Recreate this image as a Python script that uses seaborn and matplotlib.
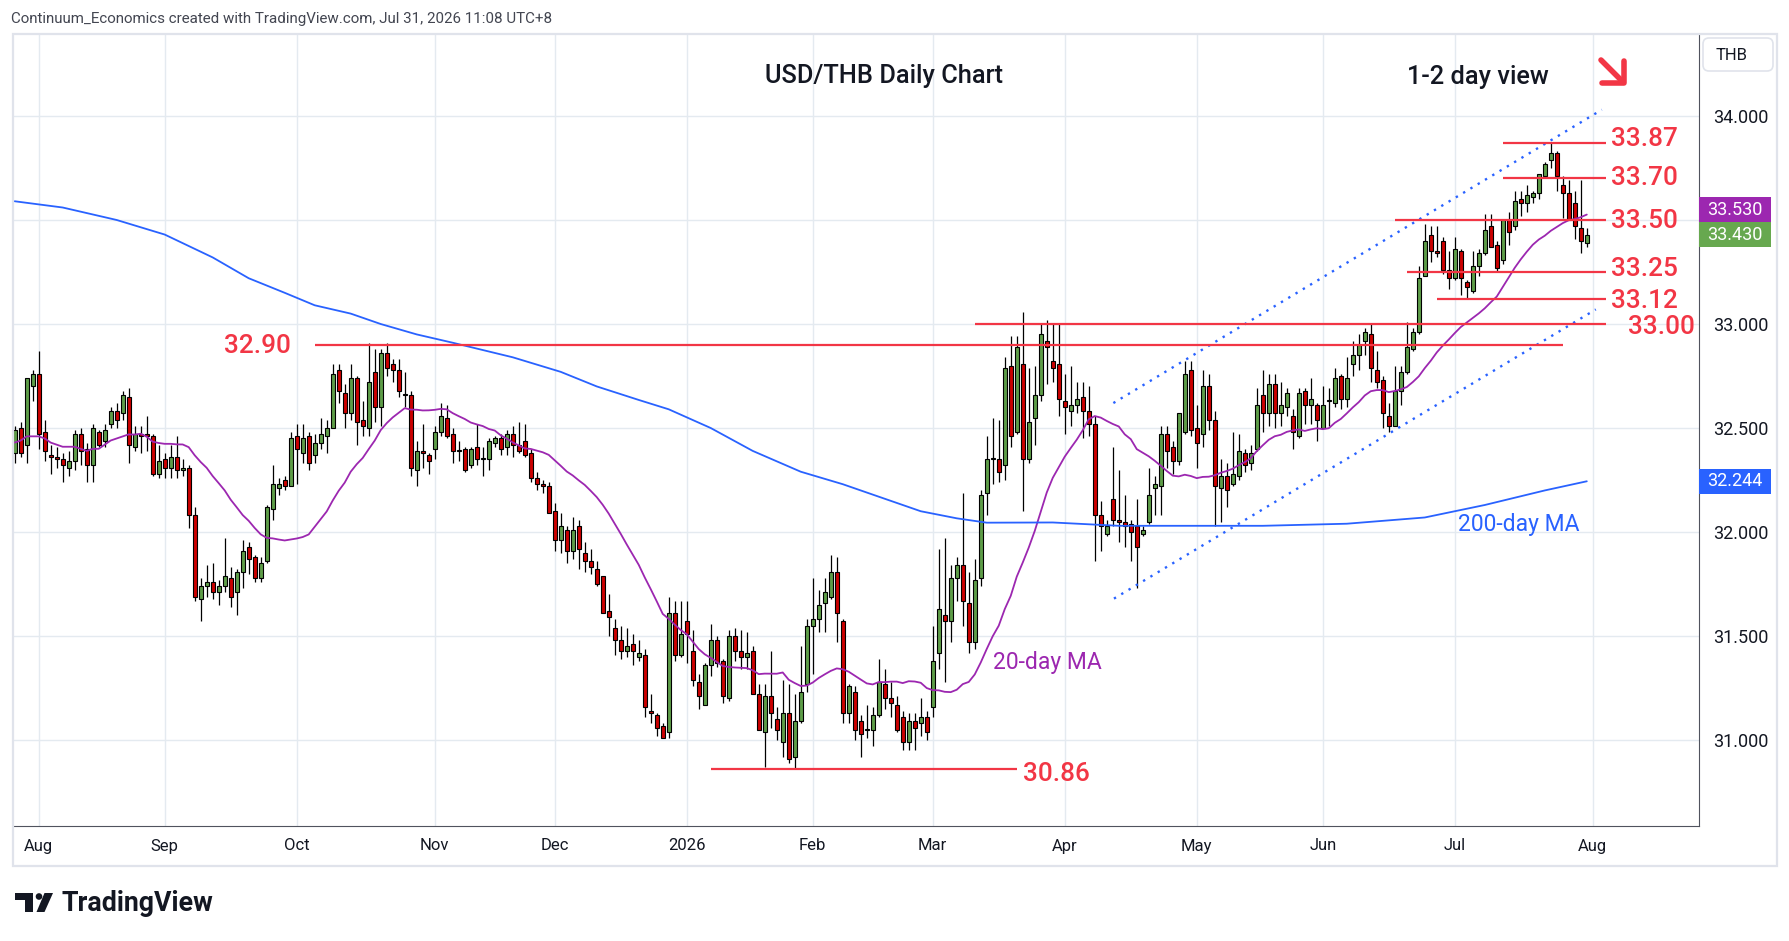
import numpy as np
import pandas as pd
import matplotlib
matplotlib.use("Agg")
import matplotlib.pyplot as plt
import seaborn as sns
from matplotlib.patches import Rectangle, Polygon, Circle, FancyBboxPatch
from matplotlib.transforms import blended_transform_factory
from matplotlib.ticker import FuncFormatter

# ---------------- data ----------------
start_date = "2025-07-28"
end_date = "2026-07-31"
holidays = ["2025-12-25", "2026-01-01"]

open_ = [
    32.38, 32.50, 32.42, 32.70, 32.76, 32.48, 32.37, 32.36, 32.35, 32.31,
    32.34, 32.47, 32.40, 32.32, 32.48, 32.44, 32.52, 32.58, 32.57, 32.65,
    32.41, 32.47, 32.47, 32.46, 32.28, 32.35, 32.31, 32.36, 32.30, 32.31, 32.08,
    31.68, 31.74, 31.76, 31.71, 31.74, 31.78, 31.71, 31.81, 31.93, 31.88, 31.78,
    31.86, 32.11, 32.21, 32.25, 32.22, 32.46, 32.38, 32.46, 32.37, 32.43, 32.46,
    32.50, 32.78, 32.67, 32.57, 32.74, 32.54, 32.50, 32.77, 32.60, 32.86,
    32.81, 32.78, 32.66, 32.66, 32.30, 32.39, 32.37, 32.40, 32.48, 32.55,
    32.47, 32.39, 32.40, 32.32, 32.41, 32.35, 32.35, 32.43, 32.45, 32.41,
    32.47, 32.42, 32.44, 32.38, 32.26, 32.23, 32.22, 32.10, 31.96, 32.01, 31.91,
    32.03, 31.90, 31.86, 31.82, 31.79, 31.62, 31.54, 31.48, 31.43, 31.46, 31.40,
    31.41, 31.14, 31.12, 31.07, 31.04, 31.61, 31.41, 31.57, 31.43, 31.28,
    31.17, 31.36, 31.48, 31.38, 31.20, 31.50, 31.43, 31.40, 31.43, 31.22,
    31.04, 31.21, 31.10, 30.99, 31.13, 30.92, 31.09, 31.27, 31.55, 31.58,
    31.66, 31.69, 31.81, 31.57, 31.13, 31.23, 31.09, 31.05, 31.05, 31.12,
    31.27, 31.20, 31.17, 31.11, 30.99, 31.09, 31.08, 31.11, 31.16, 31.42, 31.60, 31.57, 31.78,
    31.84, 31.66, 31.47, 31.78, 32.19, 32.35, 32.35, 32.32, 32.80, 32.48,
    32.81, 32.35, 32.55, 32.66, 32.92, 32.82, 32.81, 32.63, 32.58, 32.61,
    32.65, 32.58, 32.52, 32.08, 31.99, 32.16, 32.06, 32.05, 32.04, 32.03,
    31.99, 32.05, 32.21, 32.22, 32.47, 32.41, 32.34, 32.48, 32.78, 32.50,
    32.47, 32.70, 32.54, 32.21, 32.27, 32.23, 32.27, 32.38, 32.33, 32.40,
    32.66, 32.57, 32.71, 32.57, 32.60, 32.56, 32.46, 32.68, 32.61, 32.61,
    32.50, 32.63, 32.62, 32.75, 32.64, 32.81, 32.85, 32.92, 32.95, 32.78,
    32.73, 32.56, 32.51, 32.68, 32.77, 32.88, 32.96,
    33.23, 33.43, 33.35, 33.40, 33.26, 33.22, 33.35, 33.20, 33.16, 33.28,
    33.34, 33.47, 33.38, 33.31, 33.50, 33.47, 33.60, 33.58, 33.61,
    33.63, 33.71, 33.79, 33.82, 33.67, 33.63, 33.58, 33.46, 33.39,
]

high = [
    32.51, 32.53, 32.74, 32.78, 32.87, 32.54, 32.42, 32.41, 32.38, 32.39,
    32.49, 32.50, 32.43, 32.52, 32.49, 32.52, 32.60, 32.62, 32.68, 32.69,
    32.51, 32.51, 32.56, 32.47, 32.42, 32.38, 32.42, 32.46, 32.35, 32.32, 32.12,
    31.78, 31.84, 31.85, 31.77, 31.97, 31.83, 31.82, 31.96, 31.95, 31.89, 31.88,
    32.13, 32.32, 32.26, 32.27, 32.48, 32.52, 32.52, 32.48, 32.47, 32.55, 32.54,
    32.81, 32.81, 32.71, 32.81, 32.75, 32.63, 32.91, 32.88, 32.88, 32.91,
    32.83, 32.83, 32.77, 32.68, 32.44, 32.52, 32.38, 32.51, 32.62, 32.61,
    32.50, 32.44, 32.41, 32.41, 32.52, 32.41, 32.45, 32.46, 32.47, 32.49,
    32.51, 32.53, 32.52, 32.40, 32.29, 32.25, 32.24, 32.14, 32.09, 32.03, 32.07,
    32.06, 31.95, 31.92, 31.86, 31.79, 31.70, 31.58, 31.55, 31.54, 31.51, 31.48,
    31.44, 31.22, 31.13, 31.08, 31.69, 31.67, 31.67, 31.67, 31.53, 31.32,
    31.37, 31.56, 31.50, 31.39, 31.53, 31.54, 31.53, 31.52, 31.45, 31.27,
    31.27, 31.43, 31.16, 31.29, 31.27, 31.22, 31.45, 31.58, 31.78, 31.72,
    31.78, 31.89, 31.88, 31.58, 31.27, 31.26, 31.12, 31.17, 31.16, 31.39,
    31.34, 31.28, 31.21, 31.14, 31.13, 31.13, 31.20, 31.14, 31.55, 31.92, 31.97, 31.84, 31.88,
    32.19, 31.81, 31.87, 32.20, 32.46, 32.55, 32.54, 32.84, 32.94, 32.94,
    33.06, 32.79, 32.80, 33.00, 33.02, 33.00, 33.00, 32.76, 32.80, 32.72,
    32.72, 32.70, 32.56, 32.15, 32.06, 32.41, 32.30, 32.18, 32.06, 32.16,
    32.03, 32.31, 32.27, 32.51, 32.51, 32.44, 32.57, 32.82, 32.82, 32.61,
    32.78, 32.76, 32.58, 32.35, 32.33, 32.48, 32.47, 32.40, 32.42, 32.69,
    32.78, 32.76, 32.76, 32.72, 32.69, 32.59, 32.69, 32.69, 32.74, 32.62,
    32.70, 32.69, 32.79, 32.76, 32.84, 32.92, 32.95, 32.98, 33.00, 32.87,
    32.75, 32.62, 32.80, 32.80, 33.01, 32.98, 33.28,
    33.48, 33.47, 33.47, 33.42, 33.35, 33.42, 33.36, 33.21, 33.35, 33.36,
    33.53, 33.53, 33.40, 33.50, 33.54, 33.64, 33.64, 33.67, 33.64,
    33.72, 33.78, 33.87, 33.83, 33.71, 33.69, 33.64, 33.69, 33.46,
]

low = [
    32.33, 32.36, 32.33, 32.63, 32.40, 32.34, 32.28, 32.31, 32.24, 32.27,
    32.30, 32.32, 32.24, 32.24, 32.41, 32.41, 32.50, 32.50, 32.54, 32.33,
    32.39, 32.38, 32.39, 32.27, 32.26, 32.26, 32.26, 32.26, 32.27, 32.02, 31.67,
    31.57, 31.69, 31.68, 31.65, 31.71, 31.64, 31.60, 31.73, 31.80, 31.76, 31.76,
    31.85, 32.06, 32.18, 32.20, 32.22, 32.23, 32.33, 32.30, 32.33, 32.40, 32.38,
    32.50, 32.62, 32.50, 32.54, 32.42, 32.46, 32.46, 32.53, 32.51, 32.75,
    32.72, 32.65, 32.60, 32.27, 32.22, 32.31, 32.28, 32.35, 32.46, 32.45,
    32.33, 32.34, 32.29, 32.31, 32.32, 32.27, 32.30, 32.41, 32.37, 32.37,
    32.36, 32.38, 32.36, 32.24, 32.20, 32.19, 32.09, 31.91, 31.90, 31.85, 31.87,
    31.82, 31.81, 31.80, 31.74, 31.61, 31.50, 31.41, 31.39, 31.40, 31.36, 31.38,
    31.11, 31.08, 31.02, 31.01, 31.01, 31.38, 31.40, 31.37, 31.26, 31.15,
    31.17, 31.31, 31.35, 31.18, 31.19, 31.38, 31.34, 31.34, 31.22, 31.05,
    30.87, 31.06, 31.00, 30.92, 30.89, 30.86, 31.08, 31.23, 31.32, 31.52,
    31.52, 31.68, 31.47, 31.08, 31.08, 31.00, 30.92, 31.01, 30.97, 31.11,
    31.15, 31.11, 31.04, 30.95, 30.95, 30.95, 31.02, 31.00, 31.11, 31.34, 31.28, 31.47, 31.67,
    31.55, 31.42, 31.44, 31.74, 32.08, 32.23, 32.24, 32.25, 32.41, 32.47,
    32.10, 32.33, 32.42, 32.63, 32.71, 32.72, 32.56, 32.47, 32.51, 32.57,
    32.45, 32.46, 31.86, 31.91, 31.98, 32.03, 31.95, 31.93, 31.86, 31.73,
    31.98, 32.04, 32.08, 32.08, 32.31, 32.28, 32.32, 32.47, 32.46, 32.31,
    32.41, 32.49, 32.03, 32.05, 32.12, 32.22, 32.25, 32.29, 32.30, 32.39,
    32.48, 32.51, 32.50, 32.51, 32.56, 32.40, 32.45, 32.52, 32.52, 32.44,
    32.50, 32.51, 32.60, 32.59, 32.60, 32.75, 32.78, 32.85, 32.72, 32.69,
    32.50, 32.48, 32.51, 32.61, 32.76, 32.87, 32.95,
    33.23, 33.30, 33.32, 33.24, 33.17, 33.21, 33.14, 33.12, 33.15, 33.23,
    33.33, 33.37, 33.25, 33.29, 33.38, 33.45, 33.52, 33.54, 33.58,
    33.60, 33.70, 33.75, 33.64, 33.51, 33.50, 33.41, 33.34, 33.37,
]

close = [
    32.49, 32.38, 32.74, 32.76, 32.47, 32.39, 32.36, 32.35, 32.32, 32.34,
    32.47, 32.39, 32.32, 32.50, 32.42, 32.49, 32.58, 32.54, 32.66, 32.42,
    32.47, 32.46, 32.46, 32.28, 32.34, 32.31, 32.36, 32.30, 32.31, 32.08, 31.69,
    31.74, 31.76, 31.71, 31.74, 31.79, 31.69, 31.81, 31.91, 31.87, 31.78, 31.85,
    32.12, 32.23, 32.23, 32.22, 32.45, 32.40, 32.45, 32.33, 32.43, 32.47, 32.50,
    32.76, 32.68, 32.57, 32.74, 32.53, 32.51, 32.72, 32.60, 32.86, 32.79,
    32.78, 32.68, 32.66, 32.31, 32.39, 32.38, 32.34, 32.48, 32.56, 32.46,
    32.39, 32.39, 32.30, 32.40, 32.35, 32.35, 32.44, 32.45, 32.40, 32.47,
    32.42, 32.39, 32.37, 32.26, 32.23, 32.22, 32.09, 31.96, 32.03, 31.91, 32.01,
    31.92, 31.86, 31.83, 31.75, 31.61, 31.59, 31.48, 31.43, 31.45, 31.43, 31.42,
    31.16, 31.13, 31.06, 31.01, 31.61, 31.41, 31.51, 31.51, 31.29, 31.21,
    31.36, 31.48, 31.37, 31.21, 31.50, 31.43, 31.40, 31.42, 31.22, 31.05,
    31.21, 31.13, 31.05, 31.13, 30.91, 31.09, 31.23, 31.55, 31.58, 31.65,
    31.71, 31.81, 31.61, 31.13, 31.26, 31.05, 31.03, 31.05, 31.12, 31.28,
    31.20, 31.18, 31.05, 30.99, 31.09, 31.06, 31.11, 31.04, 31.38, 31.63, 31.57, 31.78, 31.84,
    31.67, 31.47, 31.77, 32.18, 32.35, 32.35, 32.29, 32.79, 32.46, 32.89,
    32.35, 32.53, 32.66, 32.95, 32.89, 32.79, 32.64, 32.60, 32.61, 32.64,
    32.58, 32.52, 32.08, 32.03, 32.03, 32.06, 32.05, 32.03, 32.00, 31.93,
    32.01, 32.18, 32.23, 32.47, 32.39, 32.34, 32.57, 32.76, 32.49, 32.43,
    32.70, 32.54, 32.22, 32.27, 32.20, 32.28, 32.39, 32.32, 32.38, 32.61,
    32.57, 32.71, 32.57, 32.61, 32.67, 32.48, 32.67, 32.61, 32.64, 32.54,
    32.61, 32.63, 32.74, 32.64, 32.74, 32.85, 32.90, 32.96, 32.79, 32.72,
    32.57, 32.51, 32.68, 32.77, 32.89, 32.96, 33.22,
    33.40, 33.35, 33.34, 33.26, 33.22, 33.36, 33.22, 33.18, 33.28, 33.34,
    33.45, 33.37, 33.27, 33.50, 33.44, 33.59, 33.58, 33.62, 33.63,
    33.72, 33.77, 33.82, 33.71, 33.63, 33.50, 33.47, 33.40, 33.43,
]

# 20-day MA values visible before 20 closes exist
ma20_head = [32.43, 32.44, 32.46, 32.46, 32.46, 32.45, 32.43, 32.42, 32.41, 32.41,
             32.41, 32.40, 32.39, 32.40, 32.40, 32.42, 32.44, 32.45, 32.46]

# 200-day MA read at sample candles
ma200_idx = [0, 8, 17, 25, 33, 39, 45, 50, 56, 61, 67, 73, 78, 83, 91, 97, 104, 109,
             116, 123, 131, 138, 146, 151, 157, 162, 173, 184, 198, 208, 222, 235,
             245, 255, 262]
ma200_val = [33.59, 33.56, 33.50, 33.43, 33.32, 33.22, 33.15, 33.09, 33.05, 33.00,
             32.95, 32.91, 32.875, 32.84, 32.77, 32.70, 32.635, 32.59, 32.50, 32.39,
             32.29, 32.23, 32.15, 32.10, 32.066, 32.045, 32.046, 32.03, 32.03, 32.03,
             32.04, 32.07, 32.13, 32.20, 32.244]

# channel lines (candle index, price)
chan_upper_x = [183.1, 264.5]
chan_upper_y = [32.62, 34.03]
chan_lower_x = [183.2, 263.5]
chan_lower_y = [31.68, 33.07]

# horizontal levels
level_vals = [33.87, 33.70, 33.50, 33.25, 33.12, 33.00, 32.90, 30.86]
level_from = [248, 248, 230, 232, 237, 160, 50, 116]
level_to = [265.2, 265.2, 265.2, 265.2, 265.2, 265.2, 258, 167]
level_text = ["33.87", "33.70", "33.50", "33.25", "33.12", "33.00", "32.90", "30.86"]
level_tx = [266, 266, 266, 266, 266, 268.9, 46, 168]
level_ty = [33.888, 33.701, 33.496, 33.262, 33.110, 32.985, 32.893, 30.835]
level_ha = ["left"] * 6 + ["right", "left"]

price_ticks = [31.0, 31.5, 32.0, 32.5, 33.0, 33.5, 34.0]
last_close_label = "33.430"
ma20_label = "33.530"
ma200_label = "32.244"
ma200_last = 32.244

# ---------------- style ----------------
sns.set_theme(style="white")
plt.rcParams['font.family'] = ['Roboto', 'DejaVu Sans']

GREEN = "#5e9d48"
RED_C = "#cc0000"
LVL = "#f23645"
PURPLE = "#9c27b0"
BLUE = "#2962ff"
GRID = "#e4eaf0"
TXT = "#131722"

W, H = 1789, 941
fig = plt.figure(figsize=(W / 100, H / 100), dpi=100)
fig.patch.set_facecolor("white")

L_px, R_px, T_px, B_px = 13, 1699, 34, 826
ax = fig.add_axes([L_px / W, 1 - B_px / H, (R_px - L_px) / W, (B_px - T_px) / H])
ax.set_facecolor("white")

o = np.array(open_)
hi = np.array(high)
lo = np.array(low)
c = np.array(close)
n = len(c)
idx = np.arange(n)

dates = pd.bdate_range(start_date, end_date)
dates = dates[~dates.isin(pd.to_datetime(holidays))]

# month ticks
per = dates.to_period("M")
tick_pos, tick_lab = [], []
for i in range(1, len(dates)):
    if per[i] != per[i - 1]:
        tick_pos.append(i)
        d = dates[i]
        tick_lab.append(str(d.year) if d.month == 1 else d.strftime("%b"))
nxt = (dates[-1] + pd.offsets.MonthBegin(1))
tick_pos.append(len(dates))
tick_lab.append(str(nxt.year) if nxt.month == 1 else nxt.strftime("%b"))

ax.set_xlim(-0.28, 280.7)
ax.set_ylim(30.587, 34.394)
ax.set_xticks(tick_pos)
ax.set_xticklabels(tick_lab)
ax.set_yticks(price_ticks)
ax.yaxis.tick_right()
ax.yaxis.set_major_formatter(FuncFormatter(lambda v, _: "" if abs(v - 33.5) < 1e-6 else f"{v:.3f}"))
ax.grid(True, color=GRID, linewidth=1.0, zorder=0)
ax.set_axisbelow(True)
ax.tick_params(axis="x", length=0, pad=9, labelsize=12, labelcolor=TXT)
ax.tick_params(axis="y", length=0, pad=10, labelsize=13, labelcolor=TXT)
for s in ["top", "left"]:
    ax.spines[s].set_visible(False)
for s in ["right", "bottom"]:
    ax.spines[s].set_color("#50535e")
    ax.spines[s].set_linewidth(0.8)

# candles
cols = np.where(c >= o, GREEN, RED_C)
body_lo = np.minimum(o, c)
body_h = np.maximum(np.abs(c - o), 0.004)
ax.vlines(idx, np.minimum(lo, body_lo), np.maximum(hi, body_lo + body_h),
          color="black", linewidth=0.9, zorder=3)
ax.bar(idx, body_h, bottom=body_lo, width=0.68, color=cols, edgecolor="black",
       linewidth=0.8, zorder=4)

# moving averages
ma20 = pd.Series(c).rolling(20).mean().to_numpy()
ma20[:19] = ma20_head
sns.lineplot(x=idx, y=ma20, ax=ax, color=PURPLE, linewidth=1.3, zorder=5)
sns.lineplot(x=ma200_idx, y=ma200_val, ax=ax, color=BLUE, linewidth=1.3, zorder=5)

# channel
for xs, ys in [(chan_upper_x, chan_upper_y), (chan_lower_x, chan_lower_y)]:
    ax.plot(xs, ys, color=BLUE, linewidth=1.7, linestyle=(0, (1, 2.6)), zorder=6)

# levels
ax.hlines(level_vals, level_from, level_to, color=LVL, linewidth=1.6, zorder=6)
for t, tx, ty, ha in zip(level_text, level_tx, level_ty, level_ha):
    ax.text(tx, ty, t, color=LVL, fontsize=18.8, fontweight="medium", ha=ha,
            va="center", zorder=7)

ax.text(163, 31.375, "20-day MA", color=PURPLE, fontsize=16.5, ha="left", va="center", zorder=7)
ax.text(240.5, 32.034, "200-day MA", color=BLUE, fontsize=16.5, ha="left", va="center", zorder=7)

# price boxes on the right scale
trans = blended_transform_factory(ax.transAxes, ax.transData)
box_w = 72 / (R_px - L_px)
box_h = 25 / 208
y_close = c[-1]
y_ma20 = max(float(ma20_label), y_close + box_h)
for lab, yc, col in [(ma20_label, y_ma20, PURPLE), (last_close_label, y_close, "#67a84f"),
                     (ma200_label, ma200_last, BLUE)]:
    ax.add_patch(Rectangle((1.0, yc - box_h / 2), box_w, box_h, transform=trans,
                           facecolor=col, edgecolor="none", clip_on=False, zorder=10))
    ax.text(1.0 + box_w / 2, yc, lab, transform=trans, ha="center", va="center",
            color="white", fontsize=13, clip_on=False, zorder=11)

# ---------------- overlay (pixel coordinates) ----------------
ov = fig.add_axes([0, 0, 1, 1])
ov.set_xlim(0, W)
ov.set_ylim(H, 0)
ov.axis("off")
ov.patch.set_alpha(0)

ov.add_patch(Rectangle((12.5, 33.5), 1764, 832, fill=False, edgecolor="#e0e3eb", linewidth=1.6))
ov.add_patch(FancyBboxPatch((1703, 38), 70, 33, boxstyle="round,pad=0,rounding_size=6",
                            facecolor="white", edgecolor="#e0e3eb", linewidth=1.2))
ov.text(1716, 55, "THB", fontsize=12, color=TXT, ha="left", va="center")

ov.text(11, 19, "Continuum_Economics created with TradingView.com, Jul 31, 2026 11:08 UTC+8",
        fontsize=10.9, color="#434651", ha="left", va="center")
ov.text(884, 75.5, "USD/THB Daily Chart", fontsize=18.3, fontweight="medium", color=TXT,
        ha="center", va="center")
ov.text(1478, 76.5, "1-2 day view", fontsize=18.3, fontweight="medium", color=TXT,
        ha="center", va="center")

# red arrow
ov.plot([1601, 1623], [60, 82], color=LVL, linewidth=4.0, solid_capstyle="round")
ov.plot([1624, 1624, 1602], [61, 83, 83], color=LVL, linewidth=4.0,
        solid_capstyle="round", solid_joinstyle="round")

# TradingView logo
ov.add_patch(Polygon([(15, 893), (33, 893), (33, 912), (24.5, 912), (24.5, 900), (15, 900)],
                     closed=True, facecolor="#131722", edgecolor="none"))
ov.add_patch(Circle((39, 896.5), 3.3, facecolor="#131722", edgecolor="none"))
ov.add_patch(Polygon([(44.5, 893), (53, 893), (44.5, 912), (36.5, 912)],
                     closed=True, facecolor="#131722", edgecolor="none"))
ov.text(62, 911, "TradingView", fontsize=19.3, fontweight="bold", color="#131722",
        ha="left", va="baseline")

fig.savefig("out.png", dpi=100, facecolor="white")
